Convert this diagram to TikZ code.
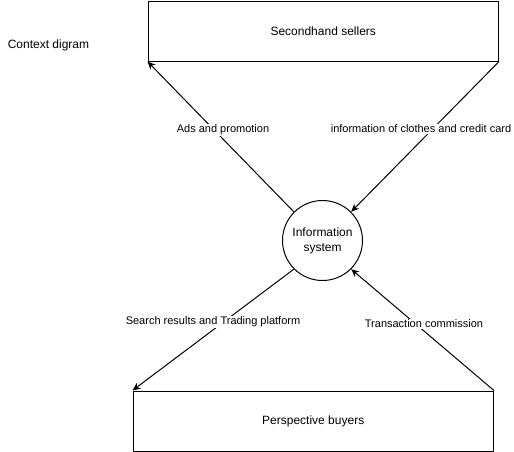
\documentclass[tikz,border=0pt]{standalone}
\usepackage{fontspec}
\setmainfont{Liberation Sans}
\usetikzlibrary{arrows.meta}
\begin{document}
\begin{tikzpicture}[x=1pt,y=-1pt,
  entity/.style={draw=black,line width=1pt,minimum width=350.5pt,minimum height=60pt,inner sep=0pt,font=\fontsize{12}{14}\selectfont,anchor=north west},
  proc/.style={draw=black,line width=1pt,circle,minimum size=80pt,inner sep=0pt,align=center,font=\fontsize{12}{15}\selectfont},
  flow/.style={line width=1pt,-{Stealth[length=8pt,width=7pt]}},
  lbl/.style={fill=white,inner sep=1pt,font=\fontsize{11}{13}\selectfont}]
\useasboundingbox (0,0) rectangle (514,451);
\node[entity] (sellers) at (147.5,0.5) {Secondhand sellers};
\node[entity,minimum width=360.5pt] (buyers) at (132.5,390.5) {Perspective buyers};
\node[proc] (sys) at (322.5,240.5) {Information\\system};
\node[font=\fontsize{12}{14}\selectfont] (ctx) at (48.5,45.5) {Context digram};
\draw[flow] (sys.135) -- (sellers.south west);
\draw[flow] (sellers.south east) -- (sys.45);
\draw[flow] (sys.225) -- (buyers.north west);
\draw[flow] (buyers.north east) -- (sys.-45);
\node[lbl] (l1) at (223,130) {Ads and promotion};
\node[lbl] (l2) at (421,129) {information of clothes and credit card};
\node[lbl] (l3) at (213,322) {Search results and Trading platform};
\node[lbl] (l4) at (424,324) {Transaction commission};
\end{tikzpicture}
\end{document}
